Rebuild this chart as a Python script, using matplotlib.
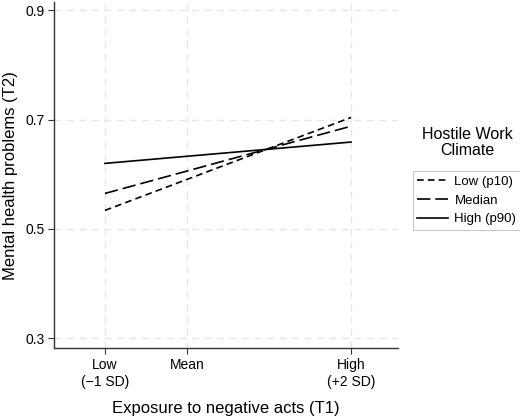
import numpy as np
import matplotlib.pyplot as plt

plt.rcParams['font.family'] = ['Liberation Sans', 'DejaVu Sans']

# ===================== Data =====================

x_vals = [-1, 2]
low_p10 = [0.534, 0.704]
median = [0.565, 0.688]
high_p90 = [0.620, 0.659]

xtick_pos = [-1, 0, 2]
xtick_labels = ["Low\n(\u22121 SD)", "Mean", "High\n(+2 SD)"]
ytick_pos = [0.3, 0.5, 0.7, 0.9]

# ===================== Plot =====================

fig = plt.figure(figsize=(5.2, 4.17), dpi=100)
ax = fig.add_axes([0.104, 0.165, 0.661, 0.830])

ax.plot(x_vals, low_p10, color="black", lw=1.2, dashes=(4, 2.5), label="Low (p10)")
ax.plot(x_vals, median, color="black", lw=1.2, dashes=(8, 3), label="Median")
ax.plot(x_vals, high_p90, color="black", lw=1.2, label="High (p90)")

ax.set_xlim(-1.62, 2.57)
ax.set_ylim(0.282, 0.915)
ax.set_xticks(xtick_pos)
ax.set_xticklabels(xtick_labels, fontsize=10, linespacing=1.25)
ax.set_yticks(ytick_pos)
ax.set_yticklabels([f"{v:.1f}" for v in ytick_pos], fontsize=10)

ax.grid(True, color="#e6e6e6", linestyle=(0, (5, 4)), lw=1)
ax.set_axisbelow(True)

for s in ["top", "right"]:
    ax.spines[s].set_visible(False)
for s in ["left", "bottom"]:
    ax.spines[s].set_color("#333333")
    ax.spines[s].set_linewidth(1)

ax.tick_params(direction="out", length=4, color="#333333", pad=3)

ax.set_xlabel("Exposure to negative acts (T1)", fontsize=12, labelpad=9)
ax.set_ylabel("Mental health problems (T2)", fontsize=12, labelpad=5)

# legend with title outside frame
fig.text(0.898, 0.622, "Hostile Work\nClimate", ha="center", va="bottom",
         fontsize=11.5, linespacing=1.05)
leg = fig.legend(loc="upper left", bbox_to_anchor=(0.794, 0.590),
                 fontsize=9.5, frameon=True, fancybox=False,
                 handlelength=2.3, handletextpad=0.5, borderpad=0.35,
                 labelspacing=0.5, borderaxespad=0)
leg.get_frame().set_edgecolor("#bbbbbb")
leg.get_frame().set_linewidth(0.8)

fig.savefig("out.png", dpi=100)
